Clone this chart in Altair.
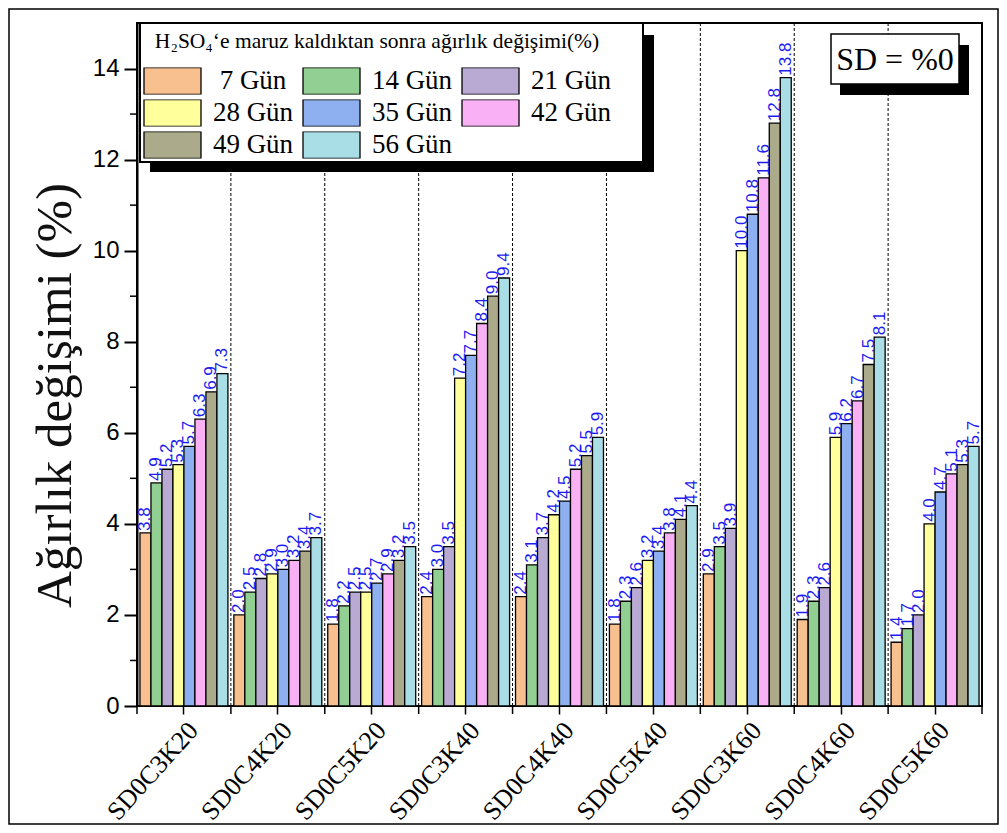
import altair as alt
import pandas as pd

groups = ["SD0C3K20", "SD0C4K20", "SD0C5K20", "SD0C3K40", "SD0C4K40",
          "SD0C5K40", "SD0C3K60", "SD0C4K60", "SD0C5K60"]
days = ["7 Gün", "14 Gün", "21 Gün", "28 Gün", "35 Gün", "42 Gün", "49 Gün", "56 Gün"]

d7 = [3.8, 2.0, 1.8, 2.4, 2.4, 1.8, 2.9, 1.9, 1.4]
d14 = [4.9, 2.5, 2.2, 3.0, 3.1, 2.3, 3.5, 2.3, 1.7]
d21 = [5.2, 2.8, 2.5, 3.5, 3.7, 2.6, 3.9, 2.6, 2.0]
d28 = [5.3, 2.9, 2.5, 7.2, 4.2, 3.2, 10.0, 5.9, 4.0]
d35 = [5.7, 3.0, 2.7, 7.7, 4.5, 3.4, 10.8, 6.2, 4.7]
d42 = [6.3, 3.2, 2.9, 8.4, 5.2, 3.8, 11.6, 6.7, 5.1]
d49 = [6.9, 3.4, 3.2, 9.0, 5.5, 4.1, 12.8, 7.5, 5.3]
d56 = [7.3, 3.7, 3.5, 9.4, 5.9, 4.4, 13.8, 8.1, 5.7]
series = [d7, d14, d21, d28, d35, d42, d49, d56]

colors = ["#F8C08E", "#92CF92", "#B8AAD2", "#FFFF9C", "#8FB0F0", "#FAB0F5", "#ABAB8C", "#AADEE6"]

y_ticks = [0, 2, 4, 6, 8, 10, 12, 14]
y_minor = [1, 3, 5, 7, 9, 11, 13]

rows = []
for di, day in enumerate(days):
    for gi, g in enumerate(groups):
        rows.append({"group": g, "day": day, "value": series[di][gi]})
df = pd.DataFrame(rows)

W, H = 845, 683

x_axis = alt.Axis(labelAngle=-48, labelFont="Liberation Serif", labelFontSize=26,
                  labelColor="black", labelAlign="right", labelBaseline="top",
                  labelPadding=3, tickSize=8, tickWidth=1.5, tickColor="black",
                  domain=False, title=None, labelOverlap=False, labelLimit=400)
x_scale = alt.Scale(domain=groups, paddingInner=0, paddingOuter=0)


def xenc(band=None):
    if band is None:
        return alt.X("group:N", sort=groups, scale=x_scale, axis=x_axis)
    return alt.X("group:N", sort=groups, scale=x_scale, axis=x_axis, bandPosition=band)


y_axis = alt.Axis(values=y_ticks, title="Ağırlık değişimi (%)", titleFont="Liberation Serif",
                  titleFontSize=51, titleFontWeight="normal", titleColor="#111111", titlePadding=11,
                  titleY=372,
                  labelFont="Liberation Sans", labelFontSize=24, labelColor="black",
                  labelPadding=5, tickSize=13, tickWidth=2, tickColor="black",
                  domain=True, domainWidth=2, domainColor="black", grid=False)
y_scale = alt.Scale(domain=[0, 15], nice=False)
yenc = alt.Y("value:Q", scale=y_scale, axis=y_axis)

xoff = alt.XOffset("day:N", sort=days, scale=alt.Scale(domain=days, paddingOuter=0.27, paddingInner=0))

legend = alt.Legend(
    title="H₂SO₄‘e maruz kaldıktan sonra ağırlık değişimi(%)",
    orient="none", legendX=3, legendY=5, columns=3, direction="horizontal",
    symbolType="M-1,-0.4737L1,-0.4737L1,0.4737L-1,0.4737Z", symbolSize=3249,
    symbolStrokeColor="black", symbolStrokeWidth=1.3, symbolOpacity=1,
    labelFont="Liberation Serif", labelFontSize=27, labelColor="black",
    labelAlign="center", labelOffset=51,
    labelLimit=300, columnPadding=8, rowPadding=4, clipHeight=27,
    titleFont="Liberation Serif", titleFontSize=21.5, titleFontWeight="normal",
    titleColor="black", titlePadding=15, titleLimit=600, titleAnchor="middle",
    padding=3)

one = pd.DataFrame({"a": [0]})

legend_shadow = alt.Chart(one).mark_rect(color="black").encode(
    x=alt.value(13), x2=alt.value(517), y=alt.value(12), y2=alt.value(149))
legend_box = alt.Chart(one).mark_rect(fill="white", stroke="black", strokeWidth=2).encode(
    x=alt.value(3), x2=alt.value(506), y=alt.value(0), y2=alt.value(139))

frame = alt.Chart(one).mark_rect(fill="white", fillOpacity=0, stroke="black", strokeWidth=1.5).encode(
    x=alt.value(-128), x2=alt.value(861), y=alt.value(-14), y2=alt.value(801))

dash_df = pd.DataFrame({"group": groups[1:]})
dashes = alt.Chart(dash_df).mark_rule(color="black", strokeWidth=1, strokeDash=[3, 2]).encode(
    x=xenc(0))

tick_df = pd.DataFrame({"group": groups})
xminor = alt.Chart(tick_df).mark_rule(color="black", strokeWidth=1.5).encode(
    x=xenc(0), y=alt.value(H), y2=alt.value(H + 8))
xminor_end = alt.Chart(pd.DataFrame({"group": groups[-1:]})).mark_rule(color="black", strokeWidth=1.5).encode(
    x=xenc(1), y=alt.value(H), y2=alt.value(H + 8))

yminor = alt.Chart(pd.DataFrame({"value": y_minor})).mark_rule(color="black", strokeWidth=1.5).encode(
    y=yenc, x=alt.value(-7), x2=alt.value(0))

bars = alt.Chart(df).mark_bar(stroke="black", strokeWidth=1.3, opacity=1).encode(
    x=xenc(), xOffset=xoff, y=yenc,
    color=alt.Color("day:N", sort=days, scale=alt.Scale(domain=days, range=colors), legend=legend))

labels = alt.Chart(df).mark_text(angle=270, align="left", baseline="middle", dx=2,
                                 font="Liberation Sans", fontSize=17, color="#1c1cf0").encode(
    x=xenc(), xOffset=xoff, y=yenc, text=alt.Text("value:Q", format=".1f"))

sd_shadow = alt.Chart(one).mark_rect(color="black").encode(
    x=alt.value(703), x2=alt.value(832), y=alt.value(22), y2=alt.value(72))
sd_box = alt.Chart(one).mark_rect(fill="white", stroke="black", strokeWidth=1.5).encode(
    x=alt.value(694), x2=alt.value(822), y=alt.value(11), y2=alt.value(61))
sd_text = alt.Chart(one).mark_text(text="SD = %0", font="Liberation Serif", fontSize=32,
                                   color="black", align="center", baseline="middle").encode(
    x=alt.value(758), y=alt.value(37))

chart = alt.layer(
    frame, dashes, xminor, xminor_end, yminor, bars, labels, legend_shadow, legend_box,
    sd_shadow, sd_box, sd_text
).properties(
    width=W, height=H,
    autosize=alt.AutoSizeParams(type="none"),
    padding={"left": 129, "top": 15, "right": 17, "bottom": 119},
).configure_view(stroke="black", strokeWidth=2)

chart.save("out.html", embed_options={"renderer": "svg", "actions": False})
